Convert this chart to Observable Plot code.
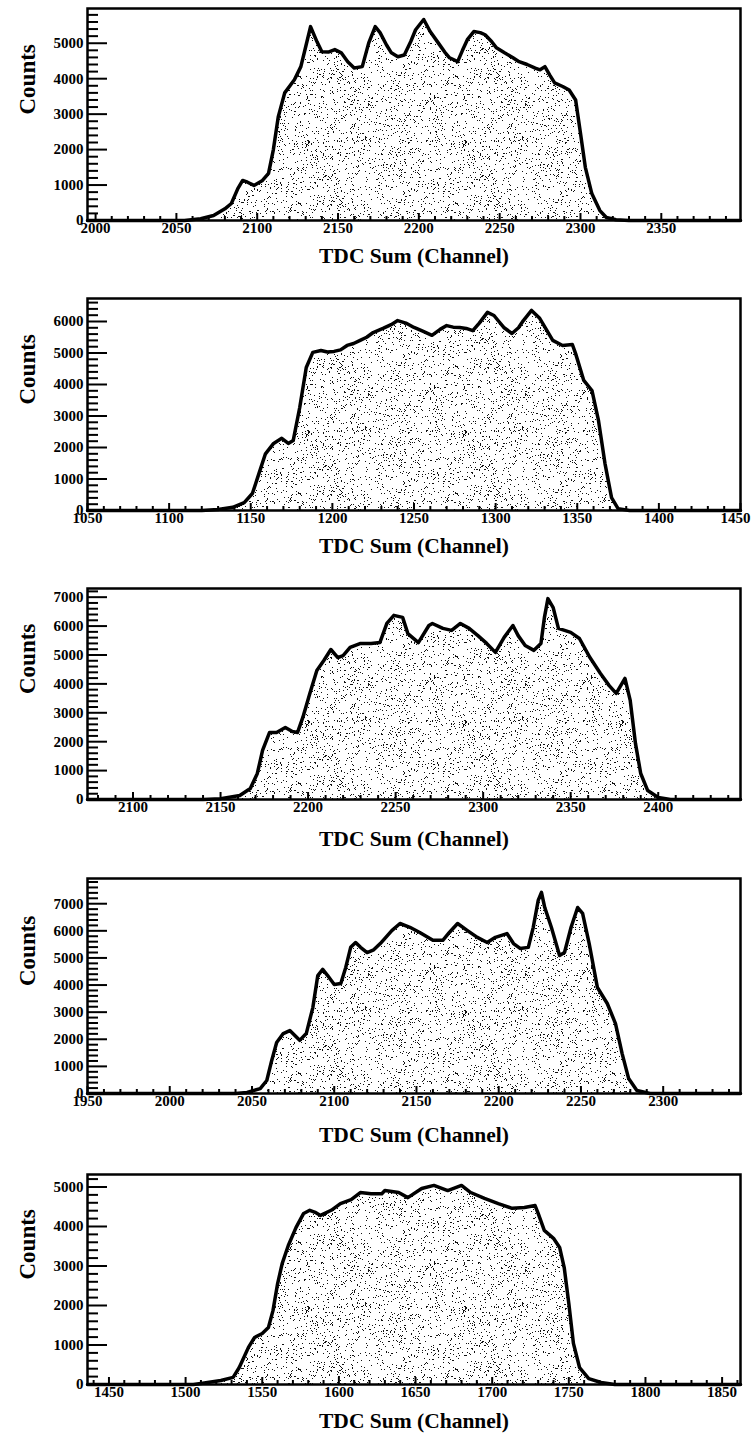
<!DOCTYPE html>
<html><head><meta charset="utf-8">
<script src="https://cdn.jsdelivr.net/npm/d3@7"></script>
<script src="https://cdn.jsdelivr.net/npm/@observablehq/plot@0.6"></script>
<style>body{margin:0;background:#fff;} svg{display:block}</style>
</head><body>
<div id="charts"></div>
<script>
// ---- Data ----
const xTitle = "TDC Sum (Channel)";
const yTitle = "Counts";

const ch1 = [1995,2055,2065,2073,2080,2084,2088,2091,2094,2098,2103,2107,2110,2113,2117,2123,2127,2130,2133,2137,2140,2144,2148,2152,2156,2160,2165,2169,2173,2176,2180,2183,2187,2191,2195,2198,2203,2207,2212,2216,2219,2224,2227,2230,2234,2238,2241,2245,2248,2253,2258,2262,2267,2272,2275,2278,2281,2284,2289,2293,2297,2300,2303,2307,2312,2316,2322,2330,2399];
const cnt1 = [0,0,50,140,330,480,900,1130,1080,990,1120,1330,2000,2920,3600,3970,4340,4900,5470,5040,4760,4750,4820,4730,4480,4300,4340,5010,5470,5300,4950,4730,4620,4670,5050,5380,5670,5330,5010,4750,4590,4480,4800,5100,5330,5300,5240,5050,4870,4730,4600,4480,4400,4300,4250,4340,4100,3880,3780,3680,3400,2460,1500,760,280,85,20,0,0];

const ch2 = [1050,1120,1130,1139,1146,1151,1155,1159,1164,1169,1173,1176,1180,1184,1188,1193,1197,1201,1205,1209,1213,1217,1221,1225,1231,1236,1240,1245,1250,1255,1261,1266,1270,1274,1278,1282,1286,1290,1295,1299,1302,1305,1310,1314,1317,1322,1327,1331,1335,1341,1347,1349,1354,1359,1363,1367,1371,1375,1382,1450];
const cnt2 = [0,0,30,100,250,540,1170,1800,2130,2290,2130,2220,3270,4540,5020,5080,5030,5050,5100,5240,5300,5400,5500,5650,5780,5900,6030,5950,5810,5700,5560,5750,5870,5820,5810,5780,5710,5950,6290,6190,6000,5810,5620,5800,6030,6350,6100,5750,5400,5240,5270,4980,4130,3810,2860,1490,410,60,0,0];

const ch3 = [2074,2140,2150,2161,2167,2171,2174,2178,2182,2187,2191,2194,2197,2201,2205,2209,2213,2217,2220,2224,2230,2236,2241,2245,2249,2254,2257,2263,2269,2271,2277,2282,2287,2292,2297,2302,2307,2312,2317,2320,2324,2329,2333,2335,2337,2340,2343,2350,2355,2361,2367,2372,2376,2378,2381,2384,2387,2390,2394,2400,2407,2447];
const cnt3 = [0,0,30,140,380,900,1700,2320,2320,2490,2350,2320,2840,3670,4460,4810,5190,4910,4980,5260,5400,5400,5430,6090,6370,6300,5740,5430,6020,6090,5920,5850,6090,5920,5670,5400,5090,5610,6020,5670,5330,5160,5400,6300,6950,6640,5920,5780,5570,4910,4360,3940,3670,3880,4190,3430,1940,900,310,70,0,0];

const ch4 = [1950,2040,2047,2055,2059,2062,2065,2069,2073,2079,2083,2087,2090,2093,2096,2100,2104,2107,2110,2113,2116,2120,2124,2128,2135,2140,2146,2152,2160,2166,2170,2175,2181,2187,2193,2198,2205,2209,2213,2218,2221,2224,2226,2228,2232,2237,2240,2244,2248,2251,2255,2260,2266,2271,2275,2279,2284,2292,2347];
const cnt4 = [0,0,40,180,480,1220,1880,2210,2320,1960,2210,3170,4350,4580,4350,4020,4060,4650,5390,5570,5390,5200,5300,5530,6010,6270,6130,5940,5650,5650,5940,6270,6010,5760,5570,5760,5900,5530,5350,5390,6130,7120,7420,6860,6130,5090,5200,6130,6860,6640,5530,3910,3320,2580,1480,550,110,0,0];

const ch5 = [1436,1505,1510,1523,1531,1535,1541,1545,1550,1554,1557,1560,1563,1567,1572,1577,1581,1585,1588,1595,1601,1608,1614,1621,1628,1630,1639,1645,1654,1662,1671,1680,1686,1695,1704,1713,1721,1728,1730,1734,1740,1744,1747,1750,1753,1757,1763,1771,1780,1862];
const cnt5 = [0,0,25,100,180,430,940,1190,1290,1440,1870,2550,3060,3520,3970,4330,4410,4350,4280,4410,4580,4680,4860,4830,4830,4910,4860,4730,4960,5040,4910,5040,4860,4710,4580,4460,4480,4530,4330,3900,3700,3470,2960,2050,1040,430,150,50,0,0];

// axis ranges
const xDomains = [[1995,2399],[1050,1450],[2074,2447],[1950,2347],[1436,1862]];
const yMaxes = [5980,6730,7300,7930,5316];

// ---- layout ----
const panels = [
  {ch: ch1, n: cnt1, h: 290, mt: 8, mb: 70, tdy: 42},
  {ch: ch2, n: cnt2, h: 290, mt: 8, mb: 70, tdy: 42},
  {ch: ch3, n: cnt3, h: 290, mt: 8, mb: 71, tdy: 46},
  {ch: ch4, n: cnt4, h: 296, mt: 8, mb: 73, tdy: 48},
  {ch: ch5, n: cnt5, h: 270, mt: 8, mb: 52, tdy: 43}
];

// stipple texture for the histogram fill (a style, not data)
(function makePattern(){
  const ns = "http://www.w3.org/2000/svg";
  const svg = document.createElementNS(ns, "svg");
  svg.setAttribute("width", 0); svg.setAttribute("height", 0);
  svg.style.position = "absolute";
  const defs = document.createElementNS(ns, "defs");
  const pat = document.createElementNS(ns, "pattern");
  const W = 157, H = 127;
  pat.setAttribute("id", "stipple");
  pat.setAttribute("patternUnits", "userSpaceOnUse");
  pat.setAttribute("width", W); pat.setAttribute("height", H);
  let a = 0x9e3779b9;
  const rnd = () => {
    a = (a + 0x6D2B79F5) | 0;
    let t = Math.imul(a ^ (a >>> 15), 1 | a);
    t = (t + Math.imul(t ^ (t >>> 7), 61 | t)) ^ t;
    return ((t ^ (t >>> 14)) >>> 0) / 4294967296;
  };
  let d = "";
  for (let i = 0; i < 1500; i++) {
    const x = Math.floor(rnd() * W), y = Math.floor(rnd() * H);
    d += `M${x},${y}h1v1h-1z`;
  }
  const path = document.createElementNS(ns, "path");
  path.setAttribute("d", d); path.setAttribute("fill", "#111");
  pat.appendChild(path); defs.appendChild(pat); svg.appendChild(defs);
  document.body.prepend(svg);
})();

const font = "'Liberation Serif', 'Times New Roman', serif";
const W = 751, ML = 87, MR = 11;

function panel(p, i) {
  const data = p.ch.map((c, k) => ({ch: c, n: p.n[k]}));
  const xd = xDomains[i], yd = [0, yMaxes[i]];
  const pw = W - ML - MR, ph = p.h - p.mt - p.mb;
  const xMaj = d3.range(Math.ceil(xd[0] / 50) * 50, xd[1] + 0.01, 50);
  const xMin = d3.range(Math.ceil(xd[0] / 10) * 10, xd[1], 10).filter(v => v % 50 !== 0);
  const yMaj = d3.range(0, yd[1], 1000);
  const yMin = d3.range(200, yd[1], 200).filter(v => v % 1000 !== 0);
  // a label sitting on the right frame edge is nudged inward, as in the reference
  const xLab = xMaj.filter(v => v < xd[1] - 5);
  const xLabEdge = xMaj.filter(v => v >= xd[1] - 5);
  const axisOpts = {tickSize: 0, tickPadding: 2, fontSize: 15, fontWeight: "bold", label: null, tickFormat: d => String(d)};
  return Plot.plot({
    width: W, height: p.h,
    marginLeft: ML, marginRight: MR, marginTop: p.mt, marginBottom: p.mb,
    x: {domain: xd}, y: {domain: yd},
    style: {fontFamily: font, color: "#000", background: "#fff", overflow: "visible"},
    marks: [
      Plot.areaY(data, {x: "ch", y: "n", fill: "url(#stipple)"}),
      Plot.tickY(yMaj, {y: d => d, insetRight: pw - 20, strokeWidth: 2}),
      Plot.tickY(yMin, {y: d => d, insetRight: pw - 11, strokeWidth: 2}),
      Plot.tickX(xMaj, {x: d => d, insetTop: ph - 7, strokeWidth: 2}),
      Plot.tickX(xMin, {x: d => d, insetTop: ph - 4, strokeWidth: 2}),
      Plot.lineY(data, {x: "ch", y: "n", stroke: "#000", strokeWidth: 3.5, strokeLinejoin: "round"}),
      Plot.frame({stroke: "#000", strokeWidth: 2.5}),
      Plot.axisX(xLab, axisOpts),
      xLabEdge.length ? Plot.axisX(xLabEdge, {...axisOpts, dx: -5}) : null,
      Plot.axisY(yMaj, {tickSize: 0, tickPadding: 4, fontSize: 15, fontWeight: "bold", label: null, tickFormat: d => String(d)}),
      Plot.text([xTitle], {frameAnchor: "bottom", dy: p.tdy, fontSize: 21.5, fontWeight: "bold"}),
      Plot.text([yTitle], {frameAnchor: "left", dx: -60, rotate: -90, fontSize: 23, fontWeight: "bold"})
    ]
  });
}

const host = document.getElementById("charts");
panels.forEach((p, i) => host.appendChild(panel(p, i)));
</script>
</body></html>
